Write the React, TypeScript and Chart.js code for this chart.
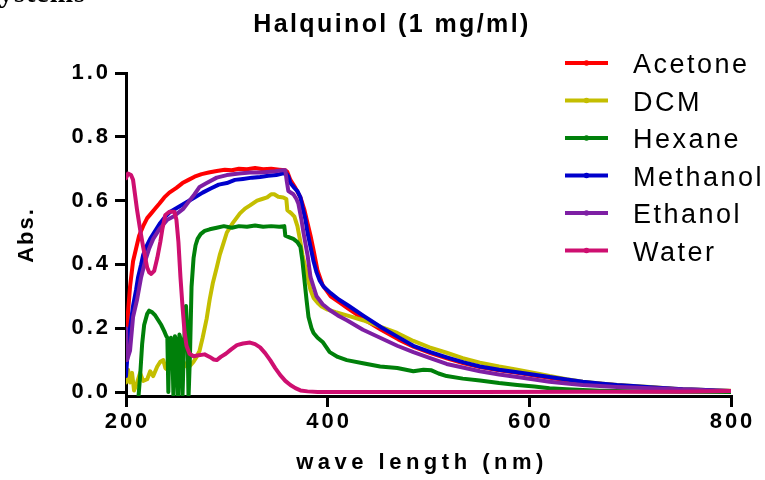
import React, { useEffect, useRef } from "react";
import { Chart, registerables } from "chart.js";

Chart.register(...registerables);

// ---------- data ----------
const chartTitle = "Halquinol (1 mg/ml)";
const xAxisTitle = "wave length (nm)";
const yAxisTitle = "Abs.";
const xTickValues = [200, 400, 600, 800];
const yTickValues = [0, 0.2, 0.4, 0.6, 0.8, 1.0];

const seriesNames = ["Acetone", "DCM", "Hexane", "Methanol", "Ethanol", "Water"];
const seriesColors = ["#FF0000", "#C4BE00", "#00800A", "#0000CC", "#7E1FA4", "#CE0F70"];

const acetoneNm = [200, 202, 204, 207, 210, 213, 217, 221, 225, 229, 233, 238, 243, 250, 256, 262, 268, 275, 282, 290, 298, 305, 312, 320, 328, 336, 344, 352, 358, 360, 363, 368, 373, 377, 380, 383, 386, 390, 395, 403, 412, 420, 436, 453, 470, 485, 502, 519, 535, 551, 570, 588, 605, 620, 637, 653, 670, 687, 703, 720, 736, 752, 770, 785, 800];
const acetoneAbs = [0.10, 0.25, 0.33, 0.41, 0.45, 0.49, 0.52, 0.545, 0.56, 0.575, 0.59, 0.61, 0.625, 0.64, 0.655, 0.665, 0.675, 0.683, 0.688, 0.693, 0.697, 0.695, 0.70, 0.698, 0.702, 0.698, 0.70, 0.697, 0.695, 0.69, 0.665, 0.64, 0.61, 0.57, 0.53, 0.49, 0.445, 0.38, 0.335, 0.30, 0.28, 0.262, 0.228, 0.195, 0.165, 0.142, 0.122, 0.105, 0.09, 0.078, 0.068, 0.06, 0.052, 0.045, 0.037, 0.031, 0.026, 0.021, 0.017, 0.014, 0.011, 0.008, 0.006, 0.004, 0.003];

const dcmNm = [200, 202, 204, 206, 208, 211, 214, 217, 221, 224, 227, 231, 234, 237, 239, 241, 244, 247, 250, 253, 257, 260, 263, 267, 270, 273, 276, 280, 283, 286, 290, 293, 297, 300, 306, 313, 318, 323, 330, 335, 340, 344, 347, 351, 356, 359, 360, 364, 367, 370, 373, 375, 378, 380, 383, 386, 390, 394, 400, 408, 419, 435, 452, 469, 485, 501, 518, 534, 551, 570, 588, 605, 620, 637, 653, 670, 687, 703, 720, 736, 752, 770, 785, 800];
const dcmAbs = [0.03, 0.07, 0.03, 0.06, 0.005, 0.03, 0.06, 0.035, 0.04, 0.065, 0.05, 0.08, 0.095, 0.10, 0.075, 0.07, 0.095, 0.10, 0.085, 0.11, 0.095, 0.08, 0.08, 0.095, 0.11, 0.13, 0.17, 0.23, 0.29, 0.34, 0.39, 0.43, 0.47, 0.50, 0.53, 0.56, 0.575, 0.585, 0.60, 0.605, 0.61, 0.62, 0.62, 0.612, 0.61, 0.605, 0.57, 0.56, 0.55, 0.52, 0.47, 0.43, 0.39, 0.36, 0.32, 0.295, 0.28, 0.268, 0.258, 0.25, 0.24, 0.225, 0.205, 0.185, 0.16, 0.14, 0.123, 0.106, 0.092, 0.08, 0.07, 0.06, 0.05, 0.04, 0.032, 0.027, 0.022, 0.019, 0.016, 0.012, 0.009, 0.007, 0.005, 0.004];

const hexaneNm = [212, 214, 216, 218, 221, 223, 226, 229, 232, 235, 238, 240, 241, 242, 243, 244.5, 246, 247, 248.5, 250, 251.5, 253, 254.5, 256, 257.5, 259.5, 261, 262, 263.5, 265, 267, 269, 271, 274, 278, 283, 290, 297, 305, 312, 320, 328, 336, 344, 352, 357, 358, 362, 366, 370, 373, 375, 377, 379, 381, 384, 386, 390, 395, 402, 410, 419, 435, 452, 469, 485, 495, 503, 510, 518, 534, 551, 570, 588, 605, 620, 637, 653, 670, 700, 750, 800];
const hexaneAbs = [-0.03, 0.05, 0.15, 0.21, 0.245, 0.255, 0.25, 0.24, 0.225, 0.21, 0.19, 0.175, 0.17, 0.0, 0.15, 0.17, 0.13, -0.01, 0.175, 0.16, -0.02, 0.18, 0.16, -0.02, 0.15, 0.27, 0.18, -0.02, 0.12, 0.33, 0.42, 0.46, 0.48, 0.495, 0.505, 0.51, 0.515, 0.52, 0.515, 0.52, 0.518, 0.522, 0.518, 0.52, 0.518, 0.52, 0.49, 0.485, 0.48, 0.47, 0.455, 0.41, 0.35, 0.29, 0.235, 0.20, 0.185, 0.17, 0.157, 0.125, 0.11, 0.10, 0.09, 0.08, 0.075, 0.065, 0.07, 0.068, 0.058, 0.05, 0.042, 0.036, 0.028, 0.022, 0.017, 0.012, 0.009, 0.006, 0.004, 0.002, 0.001, 0.0];

const methanolNm = [200, 202, 204, 207, 210, 212, 215, 217, 220, 224, 229, 234, 239, 244, 252, 260, 268, 276, 284, 292, 300, 308, 316, 325, 333, 341, 349, 355, 359, 361, 363, 367, 370, 373, 375, 378, 380, 383, 386, 389, 392, 396, 403, 411, 420, 436, 453, 470, 485, 502, 519, 535, 551, 570, 588, 605, 620, 637, 653, 670, 687, 703, 720, 736, 752, 770, 785, 800];
const methanolAbs = [0.05, 0.14, 0.20, 0.27, 0.32, 0.36, 0.40, 0.43, 0.455, 0.48, 0.505, 0.53, 0.55, 0.565, 0.58, 0.595, 0.61, 0.625, 0.638, 0.65, 0.655, 0.665, 0.668, 0.672, 0.674, 0.678, 0.68, 0.685, 0.685, 0.675, 0.655, 0.64, 0.63, 0.61, 0.58, 0.54, 0.50, 0.455, 0.41, 0.375, 0.35, 0.33, 0.31, 0.29, 0.272, 0.238, 0.203, 0.172, 0.145, 0.125, 0.108, 0.093, 0.08, 0.07, 0.062, 0.054, 0.047, 0.039, 0.032, 0.027, 0.022, 0.019, 0.015, 0.012, 0.009, 0.007, 0.005, 0.003];

const ethanolNm = [200, 201, 204, 207, 211, 215, 219, 223, 227, 233, 241, 247, 251, 257, 263, 268, 273, 280, 290, 300, 312, 323, 333, 340, 348, 355, 358, 359.5, 361, 366, 369, 371, 374, 376, 380, 383, 386, 389, 395, 402, 410, 419, 435, 452, 469, 485, 501, 518, 534, 551, 570, 588, 605, 620, 637, 653, 670, 687, 703, 720, 736, 752, 770, 785, 800];
const ethanolAbs = [0.20, 0.10, 0.13, 0.235, 0.29, 0.36, 0.41, 0.45, 0.48, 0.51, 0.54, 0.55, 0.56, 0.575, 0.60, 0.62, 0.643, 0.655, 0.672, 0.68, 0.685, 0.688, 0.688, 0.69, 0.692, 0.695, 0.695, 0.66, 0.63, 0.62, 0.605, 0.59, 0.54, 0.50, 0.43, 0.36, 0.33, 0.30, 0.275, 0.257, 0.24, 0.225, 0.195, 0.17, 0.145, 0.125, 0.107, 0.088, 0.077, 0.065, 0.055, 0.047, 0.039, 0.032, 0.027, 0.022, 0.019, 0.016, 0.014, 0.012, 0.01, 0.008, 0.006, 0.004, 0.003];

const waterNm = [200, 202, 205, 207, 211, 214, 217, 221, 223, 225, 228, 231, 234, 236, 239, 243, 248, 250, 252, 254, 256, 258, 260, 263, 267, 272, 278, 283, 287, 290, 294, 299, 304, 310, 316, 323, 328, 333, 338, 343, 348, 353, 358, 363, 368, 373, 380, 390, 450, 550, 650, 750, 800];
const waterAbs = [0.67, 0.685, 0.68, 0.665, 0.57, 0.51, 0.455, 0.39, 0.375, 0.37, 0.38, 0.42, 0.47, 0.51, 0.555, 0.565, 0.565, 0.54, 0.47, 0.36, 0.27, 0.19, 0.145, 0.12, 0.112, 0.115, 0.118, 0.11, 0.102, 0.10, 0.11, 0.12, 0.133, 0.147, 0.152, 0.155, 0.15, 0.14, 0.122, 0.10, 0.075, 0.053, 0.035, 0.022, 0.012, 0.005, 0.002, 0.0, 0.0, 0.0, 0.001, 0.001, 0.003];

const seriesNm = [acetoneNm, dcmNm, hexaneNm, methanolNm, ethanolNm, waterNm];
const seriesAbs = [acetoneAbs, dcmAbs, hexaneAbs, methanolAbs, ethanolAbs, waterAbs];

const FONT = '"Liberation Sans", Arial, Helvetica, sans-serif';

export default function App() {
  const ref = useRef<HTMLCanvasElement>(null);

  useEffect(() => {
    const canvas = ref.current;
    if (!canvas) return;

    const datasets = seriesNames.map((name, i) => ({
      label: name,
      data: seriesNm[i].map((x, k) => ({ x, y: seriesAbs[i][k] })),
      borderColor: seriesColors[i],
      backgroundColor: seriesColors[i],
      borderWidth: 4,
      pointRadius: 0,
      tension: 0,
      fill: false,
      borderJoinStyle: "round" as const,
      borderCapStyle: "round" as const,
      order: seriesNames.length - i,
    }));

    const extras = {
      id: "extras",
      beforeDraw(chart: any) {
        (chart.ctx as any).letterSpacing = "3px";
      },
      afterDraw(chart: any) {
        const ctx = chart.ctx as any;
        ctx.save();
        ctx.fillStyle = "#000";

        // fragment of a caption above, cut off by the image edge
        ctx.letterSpacing = "1px";
        ctx.font = 'bold 28px "Liberation Serif", serif';
        ctx.textAlign = "left";
        ctx.textBaseline = "alphabetic";
        ctx.fillText("ystems", -1, 1.5);

        // title
        ctx.letterSpacing = "2.4px";
        ctx.font = `bold 25px ${FONT}`;
        ctx.textAlign = "center";
        ctx.fillText(chartTitle, 392, 32);

        // x axis title
        ctx.letterSpacing = "4.5px";
        ctx.font = `bold 22px ${FONT}`;
        ctx.fillText(xAxisTitle, 422, 469);

        // y axis title
        ctx.letterSpacing = "2px";
        ctx.font = `bold 22px ${FONT}`;
        ctx.save();
        ctx.translate(33, 236);
        ctx.rotate(-Math.PI / 2);
        ctx.textAlign = "center";
        ctx.fillText(yAxisTitle, 1, 0);
        ctx.restore();

        // legend
        ctx.letterSpacing = "2.5px";
        ctx.font = `27px ${FONT}`;
        ctx.textAlign = "left";
        seriesNames.forEach((name, i) => {
          const yc = 63 + i * 37.5;
          ctx.strokeStyle = seriesColors[i];
          ctx.lineWidth = 4;
          ctx.beginPath();
          ctx.moveTo(565, yc);
          ctx.lineTo(608, yc);
          ctx.stroke();
          ctx.fillStyle = seriesColors[i];
          ctx.beginPath();
          ctx.arc(586.5, yc, 2.8, 0, Math.PI * 2);
          ctx.fill();
          ctx.fillStyle = "#000";
          ctx.fillText(name, 633, yc + 10);
        });
        ctx.restore();
      },
    };

    const chart = new Chart(canvas, {
      type: "line",
      data: { datasets },
      plugins: [extras],
      options: {
        animation: false,
        responsive: false,
        devicePixelRatio: 1,
        layout: { padding: { left: 0, right: 34, top: 73, bottom: 0 } },
        plugins: {
          legend: { display: false },
          title: { display: false },
          tooltip: { enabled: false },
        },
        scales: {
          x: {
            type: "linear",
            min: 200,
            max: 800,
            afterFit: (s: any) => {
              s.height = 84;
            },
            afterBuildTicks: (s: any) => {
              s.ticks = xTickValues.map((v) => ({ value: v }));
            },
            grid: {
              display: true,
              drawOnChartArea: false,
              drawTicks: true,
              tickLength: 11,
              tickWidth: 3,
              tickColor: "#000",
              lineWidth: 3,
              color: "#000",
            },
            border: { display: true, color: "#000", width: 3 },
            ticks: {
              autoSkip: false,
              maxRotation: 0,
              padding: 2,
              labelOffset: 1.5,
              color: "#000",
              font: { family: FONT, size: 22, weight: "bold" },
              callback: (v: any) => String(v),
            },
          },
          y: {
            type: "linear",
            min: -0.0125,
            max: 1.0,
            afterFit: (s: any) => {
              s.width = 126;
            },
            afterBuildTicks: (s: any) => {
              s.ticks = yTickValues.map((v) => ({ value: v }));
            },
            grid: {
              display: true,
              drawOnChartArea: false,
              drawTicks: true,
              tickLength: 11,
              tickWidth: 3,
              tickColor: "#000",
              lineWidth: 3,
              color: "#000",
            },
            border: { display: true, color: "#000", width: 3 },
            ticks: {
              autoSkip: false,
              padding: 4,
              color: "#000",
              font: { family: FONT, size: 22, weight: "bold" },
              callback: (v: any) => Number(v).toFixed(1),
            },
          },
        },
      },
    });

    return () => chart.destroy();
  }, []);

  return (
    <div style={{ position: "absolute", left: 0, top: 0, width: 765, height: 480, background: "#fff" }}>
      <canvas ref={ref} width={765} height={480} style={{ display: "block", width: 765, height: 480 }} />
    </div>
  );
}
